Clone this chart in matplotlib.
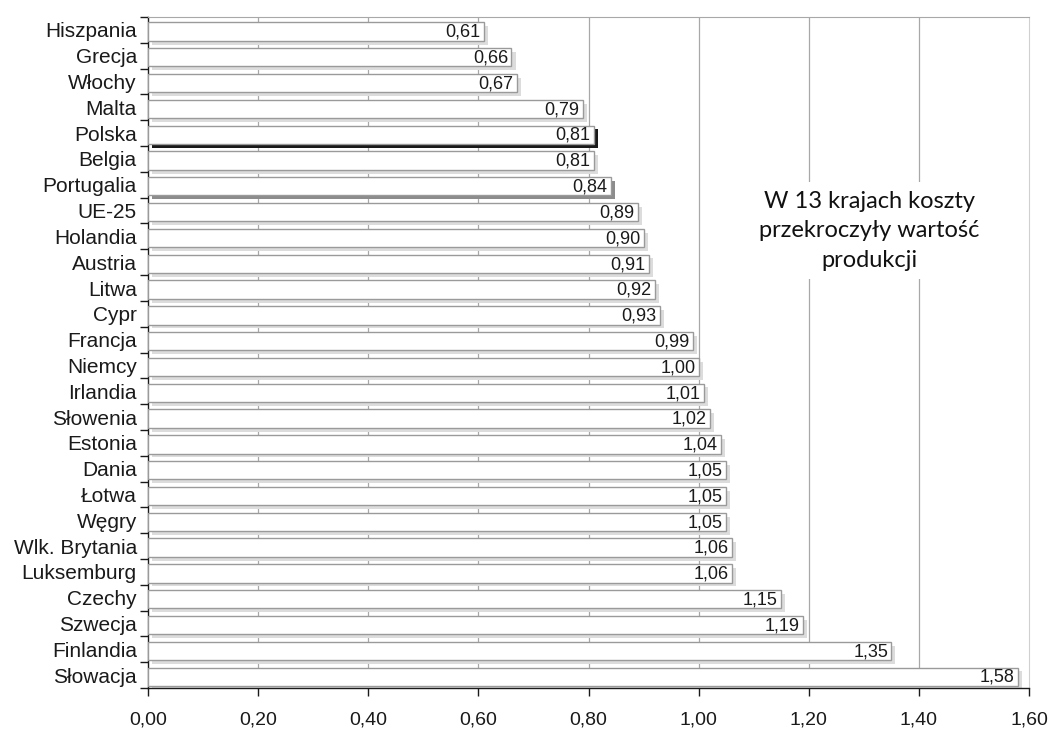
import numpy as np
import matplotlib
matplotlib.use("Agg")
from matplotlib import pyplot as plt
from matplotlib.ticker import FuncFormatter, FixedLocator

# data
kraje = ['Hiszpania', 'Grecja', 'Włochy', 'Malta', 'Polska', 'Belgia', 'Portugalia',
         'UE-25', 'Holandia', 'Austria', 'Litwa', 'Cypr', 'Francja', 'Niemcy',
         'Irlandia', 'Słowenia', 'Estonia', 'Dania', 'Łotwa', 'Węgry',
         'Wlk. Brytania', 'Luksemburg', 'Czechy', 'Szwecja', 'Finlandia', 'Słowacja']
wskaznik = [0.61, 0.66, 0.67, 0.79, 0.81, 0.81, 0.84, 0.89, 0.90, 0.91, 0.92, 0.93,
            0.99, 1.00, 1.01, 1.02, 1.04, 1.05, 1.05, 1.05, 1.06, 1.06, 1.15, 1.19,
            1.35, 1.58]
cienie = {'Polska': '#1a1a1a', 'Portugalia': '#8c8c8c'}

plt.rcParams['font.family'] = ['Liberation Sans', 'DejaVu Sans']

fig = plt.figure(figsize=(10.54, 7.31), dpi=100)
ax = fig.add_axes([0.1404, 0.0588, 0.8359, 0.9179])

y = np.arange(len(kraje))
h = 0.71
yc = y + 0.06

# cienie pod slupkami
dx, dy = 0.0075, 0.15
for yi, k, v in zip(yc, kraje, wskaznik):
    col = cienie.get(k, '#dcdcdc')
    ax.barh(yi + dy, v, height=h, left=dx, color=col, linewidth=0, zorder=2)

# slupki
ax.barh(yc, wskaznik, height=h, color='white', edgecolor='#9a9a9a', linewidth=1.0, zorder=3)

for yi, v in zip(yc, wskaznik):
    ax.text(v - 0.006, yi + 0.03, f'{v:.2f}'.replace('.', ','), ha='right', va='center',
            fontsize=13, color='#1a1a1a', zorder=4)

ax.set_xlim(0, 1.6)
ax.set_ylim(len(kraje) - 0.5, -0.5)

ax.set_xticks(np.arange(0, 1.61, 0.2))
ax.xaxis.set_major_formatter(FuncFormatter(lambda x, p: f'{x:.2f}'.replace('.', ',')))
ax.tick_params(axis='x', direction='out', length=6, width=1, labelsize=14, pad=11, colors='#1a1a1a')

ax.set_yticks(y)
ax.set_yticklabels(kraje)
ax.yaxis.set_minor_locator(FixedLocator(np.arange(-0.5, len(kraje), 1.0)))
ax.tick_params(axis='y', which='major', length=0, labelsize=15, pad=8, colors='#1a1a1a')
ax.tick_params(axis='y', which='minor', length=6, width=1, direction='out', color='#1a1a1a')

# linie siatki (bez 1,60)
for gx in np.arange(0.2, 1.41, 0.2):
    ax.axvline(gx, color='#a8a8a8', linewidth=0.9, zorder=0)

ax.spines['top'].set_color('#a8a8a8')
ax.spines['right'].set_color('#d0d0d0')
for s in ['left', 'bottom']:
    ax.spines[s].set_color('#1a1a1a')
    ax.spines[s].set_linewidth(1.0)

ax.text(1.31, 7.78, 'W 13 krajach koszty\nprzekroczyły wartość\nprodukcji', ha='center', va='center',
        fontsize=17, family=['Lato', 'DejaVu Sans'], color='#111111', linespacing=1.5, zorder=5,
        bbox=dict(facecolor='white', edgecolor='none', pad=6))

fig.savefig('out.png', dpi=100)
